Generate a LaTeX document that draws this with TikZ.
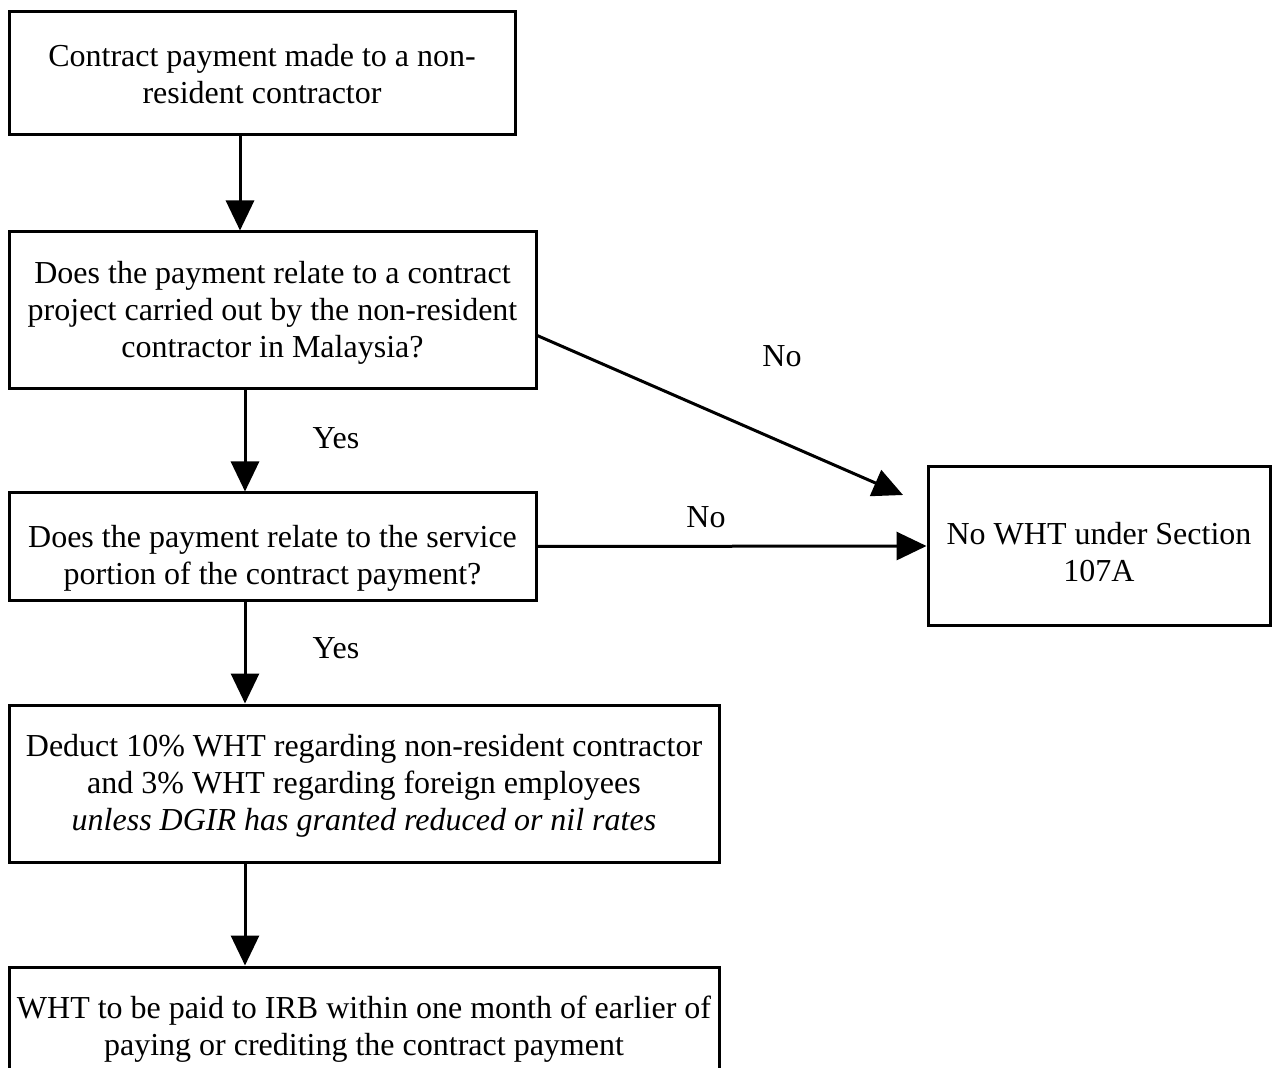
\documentclass[tikz,border=0pt]{standalone}
\usepackage{fontspec}
\setmainfont{Liberation Serif}
\usetikzlibrary{arrows.meta}
\newcommand{\tblines}[2]{\raisebox{-#1}[\height][\depth]{\begin{tabular}{@{}c@{}}#2\end{tabular}}}
\begin{document}
\begin{tikzpicture}[x=0.5pt,y=-0.5pt,
  box/.style={draw, line width=1.5pt, rectangle, inner sep=0pt, align=center,
    font=\fontsize{16}{18.5}\selectfont},
  arr/.style={line width=1.5pt, -{Triangle[length=15pt,width=14pt]}},
  lbl/.style={font=\fontsize{16}{18.5}\selectfont, inner sep=0pt}]
\useasboundingbox (0,0) rectangle (1272,1068);
\clip (0,0) rectangle (1272,1068);
\node[box, minimum width=253pt, minimum height=61.5pt] (b1) at (262,73.5)
  {\tblines{2pt}{Contract payment made to a non-\\resident contractor}};
\node[box, minimum width=263.5pt, minimum height=78.5pt] (b2) at (272.5,310.5)
  {\tblines{1.5pt}{Does the payment relate to a contract\\project carried out by the non-resident\\contractor in Malaysia?}};
\node[box, minimum width=263.5pt, minimum height=53.5pt] (b3) at (272.5,546.5)
  {\tblines{6pt}{Does the payment relate to the service\\portion of the contract payment?}};
\node[box, minimum width=171pt, minimum height=79pt] (b4) at (1099,546)
  {\tblines{5pt}{No WHT under Section\\107A}};
\node[box, minimum width=355pt, minimum height=78.5pt] (b5) at (364,783.5)
  {\tblines{1.5pt}{Deduct 10\% WHT regarding non-resident contractor\\and 3\% WHT regarding foreign employees\\\textit{unless DGIR has granted reduced or nil rates}}};
\node[box, minimum width=355pt, minimum height=61.5pt] (b6) at (364,1028.5)
  {\tblines{0.5pt}{WHT to be paid to IRB within one month of earlier of\\paying or crediting the contract payment}};
\coordinate (xa) at (240,0);
\coordinate (xb) at (245,0);
\coordinate (d0) at (536,335);
\coordinate (d1) at (903,495);
\draw[arr] (b1.south -| xa) -- (b2.north -| xa);
\draw[arr] (b2.south -| xb) -- (b3.north -| xb);
\draw[arr] (b3.south -| xb) -- (b5.north -| xb);
\draw[arr] (b5.south -| xb) -- (b6.north -| xb);
\draw[arr] (d0) -- (d1);
\draw[arr] (b3.east) -- (b4.west);
\node[lbl] (l1) at (782,356) {No};
\node[lbl] (l2) at (336,438) {Yes};
\node[lbl] (l3) at (706,517) {No};
\node[lbl] (l4) at (336,648) {Yes};
\end{tikzpicture}
\end{document}
